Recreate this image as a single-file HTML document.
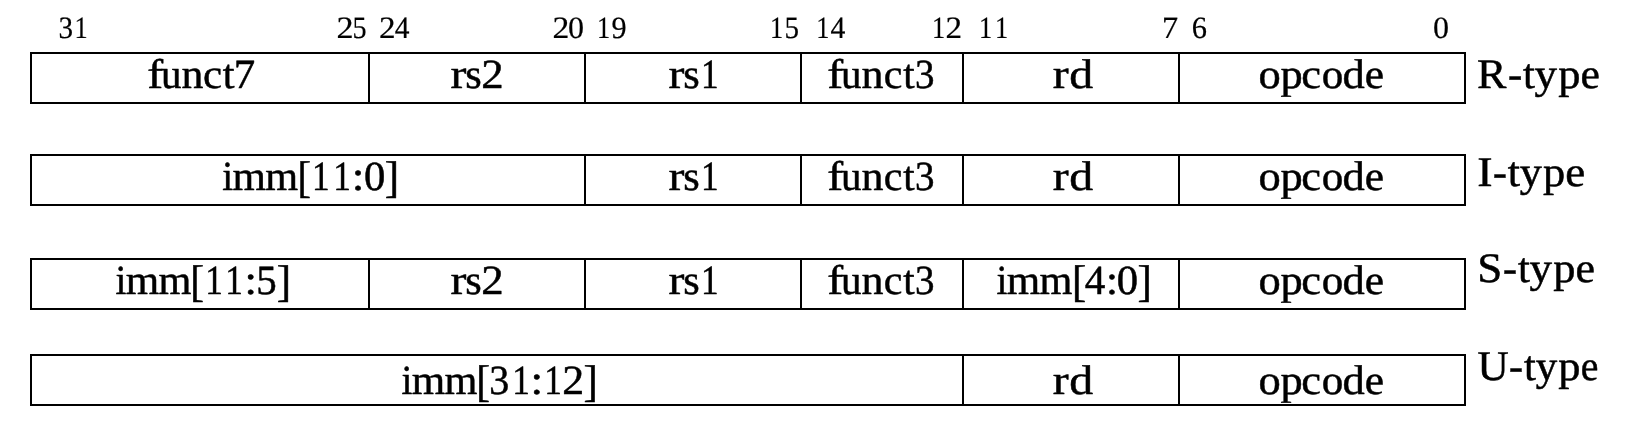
<!DOCTYPE html>
<html><head><meta charset="utf-8"><title>RISC-V instruction formats</title><style>
html,body{margin:0;padding:0;background:#fff;width:1630px;height:434px;overflow:hidden}
svg{display:block;will-change:transform}
text{font-family:"Liberation Serif",serif;fill:#000;stroke:#000;stroke-linejoin:round;text-rendering:geometricPrecision}
.d text{font-size:31px;stroke-width:0.2px}
.l text{font-size:41.5px;stroke-width:0.5px}
.t text{font-size:42px;stroke-width:0.5px}
</style></head><body>
<svg width="1630" height="434" viewBox="0 0 1630 434">
<g fill="#000">
<rect x="30" y="52" width="1436" height="2"/>
<rect x="30" y="102" width="1436" height="2"/>
<rect x="30" y="52" width="2" height="52"/>
<rect x="1464" y="52" width="2" height="52"/>
<rect x="368" y="52" width="2" height="52"/>
<rect x="584" y="52" width="2" height="52"/>
<rect x="800" y="52" width="2" height="52"/>
<rect x="962" y="52" width="2" height="52"/>
<rect x="1178" y="52" width="2" height="52"/>
<rect x="30" y="154" width="1436" height="2"/>
<rect x="30" y="204" width="1436" height="2"/>
<rect x="30" y="154" width="2" height="52"/>
<rect x="1464" y="154" width="2" height="52"/>
<rect x="584" y="154" width="2" height="52"/>
<rect x="800" y="154" width="2" height="52"/>
<rect x="962" y="154" width="2" height="52"/>
<rect x="1178" y="154" width="2" height="52"/>
<rect x="30" y="258" width="1436" height="2"/>
<rect x="30" y="308" width="1436" height="2"/>
<rect x="30" y="258" width="2" height="52"/>
<rect x="1464" y="258" width="2" height="52"/>
<rect x="368" y="258" width="2" height="52"/>
<rect x="584" y="258" width="2" height="52"/>
<rect x="800" y="258" width="2" height="52"/>
<rect x="962" y="258" width="2" height="52"/>
<rect x="1178" y="258" width="2" height="52"/>
<rect x="30" y="354" width="1436" height="2"/>
<rect x="30" y="404" width="1436" height="2"/>
<rect x="30" y="354" width="2" height="52"/>
<rect x="1464" y="354" width="2" height="52"/>
<rect x="962" y="354" width="2" height="52"/>
<rect x="1178" y="354" width="2" height="52"/>
<g class="d">
<text id="t0" transform="translate(58.60 37.50) scale(0.9381 1)">3</text>
<text id="t1" transform="translate(74.50 37.50) scale(0.8500 1)">1</text>
<text id="t2" transform="translate(336.41 37.50) scale(1.1008 1)">2</text>
<text id="t3" transform="translate(352.56 37.50) scale(0.9064 1)">5</text>
<text id="t4" transform="translate(379.05 37.50) scale(1.0691 1)">2</text>
<text id="t5" transform="translate(394.72 37.50) scale(0.9514 1)">4</text>
<text id="t6" transform="translate(552.43 37.50) scale(1.0850 1)">2</text>
<text id="t7" transform="translate(567.98 37.50) scale(1.0346 1)">0</text>
<text id="t8" transform="translate(597.00 37.50) scale(0.8500 1)">1</text>
<text id="t9" transform="translate(611.42 37.50) scale(0.9755 1)">9</text>
<text id="t10" transform="translate(770.00 37.50) scale(0.8500 1)">1</text>
<text id="t11" transform="translate(784.40 37.50) scale(0.9379 1)">5</text>
<text id="t12" transform="translate(816.30 37.50) scale(0.8500 1)">1</text>
<text id="t13" transform="translate(830.42 37.50) scale(0.9582 1)">4</text>
<text id="t14" transform="translate(932.00 37.50) scale(0.8500 1)">1</text>
<text id="t15" transform="translate(945.55 37.50) scale(1.0691 1)">2</text>
<text id="t16" transform="translate(979.10 37.50) scale(0.8500 1)">1</text>
<text id="t17" transform="translate(995.00 37.50) scale(0.8500 1)">1</text>
<text id="t18" transform="translate(1162.07 37.50) scale(1.0420 1)">7</text>
<text id="t19" transform="translate(1191.69 37.50) scale(0.9818 1)">6</text>
<text id="t20" transform="translate(1433.08 37.50) scale(1.0346 1)">0</text>
</g>
<g class="l">
<text id="t21" transform="translate(147.27 87.65) scale(1.1500 1)">f</text>
<text id="t22" transform="translate(161.01 87.65) scale(0.9853 1)">u</text>
<text id="t23" transform="translate(181.46 87.65) scale(1.0524 1)">n</text>
<text id="t24" transform="translate(202.92 87.65) scale(1.0335 1)">c</text>
<text id="t25" transform="translate(222.84 87.65) scale(1.0192 1)">t</text>
<text id="t26" transform="translate(233.63 87.65) scale(1.0336 1)">7</text>
<text id="t27" transform="translate(450.44 87.65) scale(1.1500 1)">r</text>
<text id="t28" transform="translate(465.22 87.65) scale(1.0187 1)">s</text>
<text id="t29" transform="translate(481.20 87.65) scale(1.0796 1)">2</text>
<text id="t30" transform="translate(668.44 87.65) scale(1.1500 1)">r</text>
<text id="t31" transform="translate(683.22 87.65) scale(1.0187 1)">s</text>
<text id="t32" transform="translate(701.09 87.65) scale(0.8500 1)">1</text>
<text id="t33" transform="translate(827.27 87.65) scale(1.1500 1)">f</text>
<text id="t34" transform="translate(840.91 87.65) scale(0.9853 1)">u</text>
<text id="t35" transform="translate(861.46 87.65) scale(1.0575 1)">n</text>
<text id="t36" transform="translate(883.76 87.65) scale(1.0086 1)">c</text>
<text id="t37" transform="translate(903.25 87.65) scale(0.9840 1)">t</text>
<text id="t38" transform="translate(915.07 87.65) scale(0.9409 1)">3</text>
<text id="t39" transform="translate(1052.84 87.65) scale(1.1500 1)">r</text>
<text id="t40" transform="translate(1069.20 87.65) scale(1.1500 1)">d</text>
<text id="t41" transform="translate(1258.47 87.65) scale(1.0725 1)">o</text>
<text id="t42" transform="translate(1280.45 87.65) scale(1.0707 1)">p</text>
<text id="t43" transform="translate(1301.28 87.65) scale(1.0708 1)">c</text>
<text id="t44" transform="translate(1321.72 87.65) scale(1.0393 1)">o</text>
<text id="t45" transform="translate(1342.56 87.65) scale(1.0705 1)">d</text>
<text id="t46" transform="translate(1364.76 87.65) scale(1.0467 1)">e</text>
<text id="t47" transform="translate(222.21 189.65) scale(0.9452 1)">i</text>
<text id="t48" transform="translate(232.46 189.65) scale(1.0365 1)">m</text>
<text id="t49" transform="translate(265.37 189.65) scale(1.0173 1)">m</text>
<text id="t50" transform="translate(297.44 192.04) scale(0.9753 1.0704)">[</text>
<text id="t51" transform="translate(312.04 189.65) scale(0.8500 1)">1</text>
<text id="t52" transform="translate(333.24 189.65) scale(0.8500 1)">1</text>
<text id="t53" transform="translate(351.68 189.65) scale(1.0959 1)">:</text>
<text id="t54" transform="translate(363.93 189.65) scale(1.0283 1)">0</text>
<text id="t55" transform="translate(384.70 192.04) scale(1.0369 1.0704)">]</text>
<text id="t56" transform="translate(668.44 189.65) scale(1.1500 1)">r</text>
<text id="t57" transform="translate(683.22 189.65) scale(1.0187 1)">s</text>
<text id="t58" transform="translate(701.09 189.65) scale(0.8500 1)">1</text>
<text id="t59" transform="translate(827.27 189.65) scale(1.1500 1)">f</text>
<text id="t60" transform="translate(840.91 189.65) scale(0.9853 1)">u</text>
<text id="t61" transform="translate(861.46 189.65) scale(1.0575 1)">n</text>
<text id="t62" transform="translate(883.76 189.65) scale(1.0086 1)">c</text>
<text id="t63" transform="translate(903.25 189.65) scale(0.9840 1)">t</text>
<text id="t64" transform="translate(915.07 189.65) scale(0.9409 1)">3</text>
<text id="t65" transform="translate(1052.84 189.65) scale(1.1500 1)">r</text>
<text id="t66" transform="translate(1069.20 189.65) scale(1.1500 1)">d</text>
<text id="t67" transform="translate(1258.47 189.65) scale(1.0725 1)">o</text>
<text id="t68" transform="translate(1280.45 189.65) scale(1.0707 1)">p</text>
<text id="t69" transform="translate(1301.28 189.65) scale(1.0708 1)">c</text>
<text id="t70" transform="translate(1321.72 189.65) scale(1.0393 1)">o</text>
<text id="t71" transform="translate(1342.56 189.65) scale(1.0705 1)">d</text>
<text id="t72" transform="translate(1364.76 189.65) scale(1.0467 1)">e</text>
<text id="t73" transform="translate(115.41 293.55) scale(0.9452 1)">i</text>
<text id="t74" transform="translate(125.66 293.55) scale(1.0365 1)">m</text>
<text id="t75" transform="translate(158.57 293.55) scale(1.0173 1)">m</text>
<text id="t76" transform="translate(190.28 295.94) scale(0.9959 1.0704)">[</text>
<text id="t77" transform="translate(205.14 293.55) scale(0.8500 1)">1</text>
<text id="t78" transform="translate(225.24 293.55) scale(0.8500 1)">1</text>
<text id="t79" transform="translate(244.53 293.55) scale(1.0774 1)">:</text>
<text id="t80" transform="translate(256.27 293.55) scale(0.9874 1)">5</text>
<text id="t81" transform="translate(276.70 295.94) scale(1.0369 1.0704)">]</text>
<text id="t82" transform="translate(450.44 293.55) scale(1.1500 1)">r</text>
<text id="t83" transform="translate(465.22 293.55) scale(1.0187 1)">s</text>
<text id="t84" transform="translate(481.20 293.55) scale(1.0796 1)">2</text>
<text id="t85" transform="translate(668.44 293.55) scale(1.1500 1)">r</text>
<text id="t86" transform="translate(683.22 293.55) scale(1.0187 1)">s</text>
<text id="t87" transform="translate(701.09 293.55) scale(0.8500 1)">1</text>
<text id="t88" transform="translate(827.27 293.55) scale(1.1500 1)">f</text>
<text id="t89" transform="translate(840.91 293.55) scale(0.9853 1)">u</text>
<text id="t90" transform="translate(861.46 293.55) scale(1.0575 1)">n</text>
<text id="t91" transform="translate(883.76 293.55) scale(1.0086 1)">c</text>
<text id="t92" transform="translate(903.25 293.55) scale(0.9840 1)">t</text>
<text id="t93" transform="translate(915.07 293.55) scale(0.9409 1)">3</text>
<text id="t94" transform="translate(996.41 293.55) scale(0.9452 1)">i</text>
<text id="t95" transform="translate(1006.66 293.55) scale(1.0365 1)">m</text>
<text id="t96" transform="translate(1039.57 293.55) scale(1.0173 1)">m</text>
<text id="t97" transform="translate(1071.89 295.94) scale(1.0267 1.0704)">[</text>
<text id="t98" transform="translate(1084.84 293.55) scale(0.9903 1)">4</text>
<text id="t99" transform="translate(1106.05 293.55) scale(1.0402 1)">:</text>
<text id="t100" transform="translate(1116.83 293.55) scale(1.0283 1)">0</text>
<text id="t101" transform="translate(1137.60 295.94) scale(1.0369 1.0704)">]</text>
<text id="t102" transform="translate(1258.47 293.55) scale(1.0725 1)">o</text>
<text id="t103" transform="translate(1280.45 293.55) scale(1.0707 1)">p</text>
<text id="t104" transform="translate(1301.28 293.55) scale(1.0708 1)">c</text>
<text id="t105" transform="translate(1321.72 293.55) scale(1.0393 1)">o</text>
<text id="t106" transform="translate(1342.56 293.55) scale(1.0705 1)">d</text>
<text id="t107" transform="translate(1364.76 293.55) scale(1.0467 1)">e</text>
<text id="t108" transform="translate(401.41 393.65) scale(0.9452 1)">i</text>
<text id="t109" transform="translate(411.66 393.65) scale(1.0365 1)">m</text>
<text id="t110" transform="translate(444.57 393.65) scale(1.0173 1)">m</text>
<text id="t111" transform="translate(476.28 396.04) scale(0.9959 1.0704)">[</text>
<text id="t112" transform="translate(489.23 393.65) scale(0.9636 1)">3</text>
<text id="t113" transform="translate(512.34 393.65) scale(0.8500 1)">1</text>
<text id="t114" transform="translate(530.48 393.65) scale(1.0959 1)">:</text>
<text id="t115" transform="translate(544.14 393.65) scale(0.8500 1)">1</text>
<text id="t116" transform="translate(562.34 393.65) scale(1.0562 1)">2</text>
<text id="t117" transform="translate(583.40 396.04) scale(1.0369 1.0704)">]</text>
<text id="t118" transform="translate(1052.84 393.65) scale(1.1500 1)">r</text>
<text id="t119" transform="translate(1069.20 393.65) scale(1.1500 1)">d</text>
<text id="t120" transform="translate(1258.47 393.65) scale(1.0725 1)">o</text>
<text id="t121" transform="translate(1280.45 393.65) scale(1.0707 1)">p</text>
<text id="t122" transform="translate(1301.28 393.65) scale(1.0708 1)">c</text>
<text id="t123" transform="translate(1321.72 393.65) scale(1.0393 1)">o</text>
<text id="t124" transform="translate(1342.56 393.65) scale(1.0705 1)">d</text>
<text id="t125" transform="translate(1364.76 393.65) scale(1.0467 1)">e</text>
</g>
<g class="t">
<text id="t126" transform="translate(1477.09 87.65) scale(1.0498 1)">R</text>
<text id="t127" transform="translate(1507.97 87.65) scale(1.0166 1)">-</text>
<text id="t128" transform="translate(1523.04 87.65) scale(1.0163 1)">t</text>
<text id="t129" transform="translate(1534.62 87.65) scale(1.0709 1)">y</text>
<text id="t130" transform="translate(1558.25 87.65) scale(1.0582 1)">p</text>
<text id="t131" transform="translate(1580.55 87.65) scale(1.0408 1)">e</text>
<text id="t132" transform="translate(1477.21 185.55) scale(1.0964 1)">I</text>
<text id="t133" transform="translate(1493.00 185.55) scale(0.9903 1)">-</text>
<text id="t134" transform="translate(1507.83 185.55) scale(1.0510 1)">t</text>
<text id="t135" transform="translate(1519.82 185.55) scale(1.0517 1)">y</text>
<text id="t136" transform="translate(1543.05 185.55) scale(1.0582 1)">p</text>
<text id="t137" transform="translate(1565.31 185.55) scale(1.0720 1)">e</text>
<text id="t138" transform="translate(1477.35 281.95) scale(1.0735 1)">S</text>
<text id="t139" transform="translate(1502.89 281.95) scale(0.9991 1)">-</text>
<text id="t140" transform="translate(1517.94 281.95) scale(1.0163 1)">t</text>
<text id="t141" transform="translate(1529.52 281.95) scale(1.0709 1)">y</text>
<text id="t142" transform="translate(1553.15 281.95) scale(1.0582 1)">p</text>
<text id="t143" transform="translate(1575.44 281.95) scale(1.0471 1)">e</text>
<text id="t144" transform="translate(1477.45 379.85) scale(1.0286 1)">U</text>
<text id="t145" transform="translate(1508.99 379.85) scale(0.9991 1)">-</text>
<text id="t146" transform="translate(1524.04 379.85) scale(1.0163 1)">t</text>
<text id="t147" transform="translate(1535.63 379.85) scale(1.0229 1)">y</text>
<text id="t148" transform="translate(1558.25 379.85) scale(1.0582 1)">p</text>
<text id="t149" transform="translate(1580.68 379.85) scale(0.9473 1)">e</text>
</g>
</g>
</svg>
</body></html>
